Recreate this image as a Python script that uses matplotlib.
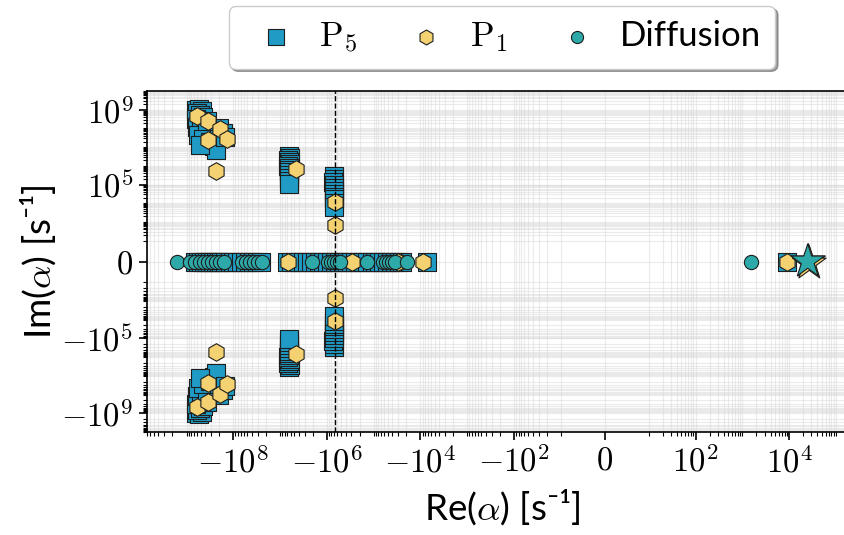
import numpy as np
import matplotlib.pyplot as plt
from matplotlib.ticker import FixedLocator, FixedFormatter, SymmetricalLogLocator, NullFormatter

plt.rcParams['mathtext.fontset'] = 'cm'
plt.rcParams['font.family'] = ['Lato', 'DejaVu Sans']

# P5 eigenvalues with Im > 0 (conjugates are drawn too)
p5_cplx_re = [-6.3e8, -5.4e8, -4.7e8, -6.0e8, -5.2e8, -4.5e8, -6.3e8, -5.4e8, -4.2e8, -6.0e8,
              -4.9e8, -3.9e8, -5.7e8, -4.5e8, -3.2e8, -2.6e8, -2.4e8, -2.0e8, -1.7e8, -1.5e8,
              -3.7e8, -5.2e8,
              -6.5e6, -6.2e6, -6.8e6, -6.5e6, -6.3e6, -6.7e6, -6.5e6, -6.4e6, -6.6e6, -6.5e6,
              -6.5e6, -6.5e6, -6.5e6,
              -7.1e5, -6.9e5, -7.3e5, -7.1e5, -7.0e5, -7.2e5, -7.1e5, -7.0e5, -7.1e5, -7.1e5,
              -7.1e5]
p5_cplx_im = [9.9e8, 1.1e9, 8.8e8, 6.9e8, 5.4e8, 4.2e8, 3.3e8, 2.6e8, 1.8e8, 1.2e8,
              8.5e7, 6.7e7, 4.6e7, 2.8e7, 1.9e7, 1.2e7, 7.3e6, 1.1e8, 5.9e7, 3.6e7,
              2.6e8, 1.3e7,
              3.5e6, 2.7e6, 2.1e6, 1.7e6, 1.3e6, 1.0e6, 8.0e5, 6.3e5, 4.9e5, 3.4e5,
              2.3e5, 1.6e5, 1.1e5,
              3.0e5, 2.1e5, 1.4e5, 9.9e4, 6.9e4, 4.8e4, 3.3e4, 2.3e4, 1.6e4, 1.1e4,
              6.7e3]
# P5 real eigenvalues
p5_real = [-6.6e8, -5.7e8, -4.9e8, -4.2e8, -3.7e8, -3.2e8, -2.7e8, -2.4e8, -2.0e8, -1.8e8,
           -1.5e8, -1.2e8, -1.0e8, -8.4e7, -6.9e7, -5.7e7, -4.6e7, -3.8e7, -3.1e7, -2.6e7,
           -7.2e6, -5.9e6, -4.8e6, -4.0e6, -3.3e6, -2.7e6, -2.2e6, -1.8e6, -1.5e6, -1.2e6,
           -1.0e6, -8.2e5, -6.8e5, -5.5e5, -4.6e5, -3.7e5, -3.1e5, -2.5e5, -2.1e5, -1.7e5,
           -1.4e5, -1.1e5, -9.4e4, -7.7e4, -6.4e4, -5.2e4, -4.3e4, -3.5e4, -2.9e4, -2.5e4,
           -7.3e3, 8.9e3]

# P1 eigenvalues
p1_cplx_re = [-6.0e8, -3.5e8, -1.95e8, -1.38e8, -3.5e8, -2.3e8, -4.6e6, -6.8e5, -6.6e5]
p1_cplx_im = [4.8e8, 2.6e8, 9.6e7, 2.8e7, 2.5e7, 5.5e5, 7.1e5, 1.2e4, 7.3e2]
p1_real = [-6.8e6, -2.9e5, -2.8e4, -3.0e4, -8.9e3, 8.9e3]

# diffusion eigenvalues (all real)
diff_real = [-1.6e9, -8.5e8, -6.6e8, -5.1e8, -4.3e8, -3.5e8, -2.9e8, -2.3e8, -1.95e8, -1.6e8,
             -6.6e7, -5.4e7, -4.5e7, -3.6e7, -3.0e7, -2.5e7,
             -2.1e6, -9.5e5, -8.1e5, -7.1e5, -6.2e5, -5.2e5,
             -1.4e5, -6.3e4, -5.5e4, -4.8e4, -4.1e4, -3.5e4, -1.95e4, 1.5e3]

# fundamental mode of each method
fund_re = [2.6e4, 2.7e4, 2.5e4]
fund_im = [0.0, -10.0, 0.0]

c_p5 = '#1f9bc6'
c_p1 = '#f4d271'
c_diff = '#2ca9a8'
edge = '#1e1e1e'


def with_conjugates(cre, cim, real):
    cre = np.asarray(cre)
    cim = np.asarray(cim)
    re = np.concatenate([cre, cre, real])
    im = np.concatenate([cim, -cim, np.zeros(len(real))])
    return re, im


fig = plt.figure(figsize=(8.45, 5.35), dpi=100)
ax = fig.add_axes([0.174, 0.1925, 0.840, 0.6374])

re5, im5 = with_conjugates(p5_cplx_re, p5_cplx_im, p5_real)
re1, im1 = with_conjugates(p1_cplx_re, p1_cplx_im, p1_real)

ax.scatter(re5, im5, s=165, marker='s', c=c_p5, edgecolors=edge, linewidths=0.8,
           zorder=3, label=r'$\mathrm{P}_5$')
ax.scatter(re1, im1, s=160, marker='h', c=c_p1, edgecolors=edge, linewidths=0.8,
           zorder=4, label=r'$\mathrm{P}_1$')
ax.scatter(diff_real, np.zeros(len(diff_real)), s=105, marker='o', c=c_diff,
           edgecolors=edge, linewidths=0.8, zorder=5, label='Diffusion')
ax.scatter(fund_re, fund_im, s=650, marker='*', c=[c_p5, c_p1, c_diff],
           edgecolors=edge, linewidths=0.8, zorder=6)

ax.axvline(-6.8e5, color='black', ls='--', lw=1.0, zorder=7)

ax.set_xscale('symlog', linthresh=10, linscale=0.846)
ax.set_yscale('symlog', linthresh=100, linscale=1.0)
ax.set_xlim(-7e9, 2.8e5)
ax.set_ylim(-1e10, 1e10)

xt = [-1e8, -1e6, -1e4, -1e2, 0, 1e2, 1e4]
xl = [r'$-10^{8}$', r'$-10^{6}$', r'$-10^{4}$', r'$-10^{2}$', r'$0$', r'$10^{2}$', r'$10^{4}$']
yt = [-1e9, -1e5, 0, 1e5, 1e9]
yl = [r'$-10^{9}$', r'$-10^{5}$', r'$0$', r'$10^{5}$', r'$10^{9}$']
ax.xaxis.set_major_locator(FixedLocator(xt))
ax.xaxis.set_major_formatter(FixedFormatter(xl))
ax.yaxis.set_major_locator(FixedLocator(yt))
ax.yaxis.set_major_formatter(FixedFormatter(yl))
ax.xaxis.set_minor_locator(SymmetricalLogLocator(base=10, linthresh=10, subs=np.arange(1, 10)))
ax.yaxis.set_minor_locator(SymmetricalLogLocator(base=10, linthresh=100, subs=np.arange(1, 10)))
ax.xaxis.set_minor_formatter(NullFormatter())
ax.yaxis.set_minor_formatter(NullFormatter())

ax.tick_params(which='major', labelsize=23.5, length=6, width=1.2, direction='out', pad=4)
ax.tick_params(which='minor', length=3, width=0.8, direction='out')
ax.grid(True, which='both', color='#d8d8d8', lw=0.8, alpha=0.5, zorder=0)
ax.set_axisbelow(True)
for sp in ax.spines.values():
    sp.set_linewidth(1.2)

ax.set_xlabel('Re($\\alpha$) [s\u207b\u00b9]', fontsize=26.5, labelpad=6)
ax.set_ylabel('Im($\\alpha$) [s\u207b\u00b9]', fontsize=26.5, labelpad=2)

ax.legend(loc='lower center', bbox_to_anchor=(0.5, 1.015), ncol=3, fontsize=25,
          frameon=True, fancybox=True, shadow=True, edgecolor='#cccccc',
          handlelength=1.9, handletextpad=0.3, columnspacing=1.05, borderpad=0.4,
          markerscale=0.85)

fig.savefig('out.png', dpi=100)
